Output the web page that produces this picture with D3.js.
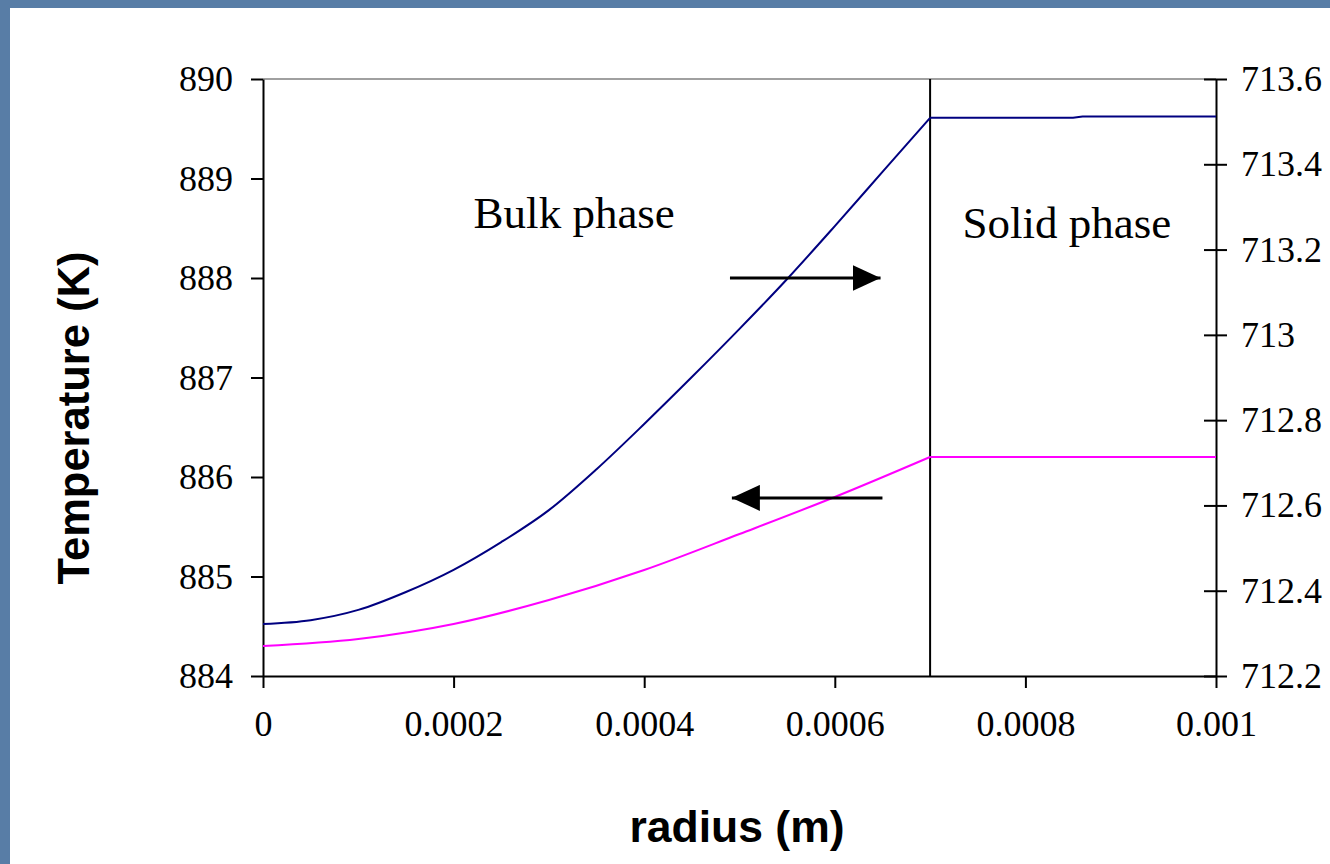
<!DOCTYPE html>
<html>
<head>
<meta charset="utf-8">
<script src="https://cdn.jsdelivr.net/npm/d3@7"></script>
<style>
  html, body { margin: 0; padding: 0; background: #587da6; }
  svg { display: block; }
</style>
</head>
<body>
<svg id="chart" width="1330" height="864"></svg>
<script>
// Radial temperature profiles across the bulk and solid phases
const radiusRight = [0, 0.00005, 0.0001, 0.00015, 0.0002, 0.00025, 0.0003, 0.00035, 0.0004,
                     0.00045, 0.0005, 0.00055, 0.0006, 0.00065, 0.0007, 0.00085, 0.00086, 0.001];
const tempRight = [712.322, 712.331, 712.355, 712.397, 712.449, 712.514, 712.589, 712.685, 712.791,
                   712.901, 713.014, 713.131, 713.255, 713.382, 713.509, 713.509, 713.512, 713.512];

const radiusLeft = [0, 0.0001, 0.0002, 0.0003, 0.0004, 0.0005, 0.0006, 0.0007, 0.001];
const tempLeft = [884.302, 884.372, 884.523, 884.764, 885.065, 885.427, 885.799, 886.201, 886.201];

const xTicks = [0, 0.0002, 0.0004, 0.0006, 0.0008, 0.001];
const xTickLabels = ["0", "0.0002", "0.0004", "0.0006", "0.0008", "0.001"];
const leftTicks = [884, 885, 886, 887, 888, 889, 890];
const rightTicks = [712.2, 712.4, 712.6, 712.8, 713, 713.2, 713.4, 713.6];
const rightTickLabels = ["712.2", "712.4", "712.6", "712.8", "713", "713.2", "713.4", "713.6"];

const interfaceRadius = 0.0007;
const phaseLabels = [
  { text: "Bulk phase", r: 0.000221, t: 888.5, anchor: "start" },
  { text: "Solid phase", r: 0.000734, t: 888.4, anchor: "start" }
];
// arrows pointing to the axis each curve belongs to
const arrows = [
  { from: 0.00049, to: 0.000648, t: 888.0 },
  { from: 0.00065, to: 0.000492, t: 885.79 }
];

const svg = d3.select("#chart");
const W = 1330, H = 864;

// slide background and white panel
svg.append("rect").attr("width", W).attr("height", H).attr("fill", "#587da6");
svg.append("rect").attr("x", 10).attr("y", 8).attr("width", W - 10).attr("height", H - 8).attr("fill", "#ffffff");

const plot = { left: 263, right: 1216, top: 79, bottom: 676 };

const x = d3.scaleLinear().domain([0, 0.001]).range([plot.left, plot.right]);
const yL = d3.scaleLinear().domain([884, 890]).range([plot.bottom, plot.top]);
const yR = d3.scaleLinear().domain([712.2, 713.6]).range([plot.bottom, plot.top]);

const serif = "'Liberation Serif', 'Times New Roman', serif";
const sans = "'Liberation Sans', Arial, sans-serif";

// top border of the plot area
svg.append("line")
  .attr("x1", plot.left).attr("x2", plot.right)
  .attr("y1", plot.top).attr("y2", plot.top)
  .attr("stroke", "#a0a0a0").attr("stroke-width", 2);

// interface between the phases
svg.append("line")
  .attr("x1", x(interfaceRadius)).attr("x2", x(interfaceRadius))
  .attr("y1", plot.top).attr("y2", plot.bottom)
  .attr("stroke", "#000").attr("stroke-width", 2);

// axes
function styleAxis(g) {
  g.selectAll(".domain").attr("stroke", "#000").attr("stroke-width", 2);
  g.selectAll(".tick line").attr("stroke", "#000").attr("stroke-width", 2);
  g.selectAll(".tick text").attr("fill", "#000").attr("font-family", serif).attr("font-size", 36);
}

const xAxis = svg.append("g")
  .attr("transform", `translate(0,${plot.bottom})`)
  .call(d3.axisBottom(x).tickValues(xTicks).tickSizeInner(12).tickSizeOuter(0).tickPadding(22)
    .tickFormat((d, i) => xTickLabels[i]));
styleAxis(xAxis);

const leftAxis = svg.append("g")
  .attr("transform", `translate(${plot.left},0)`)
  .call(d3.axisLeft(yL).tickValues(leftTicks).tickSizeInner(12).tickSizeOuter(0).tickPadding(18)
    .tickFormat(d3.format("d")));
styleAxis(leftAxis);

const rightAxis = svg.append("g")
  .attr("transform", `translate(${plot.right},0)`)
  .call(d3.axisRight(yR).tickValues(rightTicks).tickSizeInner(11).tickSizeOuter(0).tickPadding(14)
    .tickFormat((d, i) => rightTickLabels[i]));
styleAxis(rightAxis);
// right-axis ticks cross the axis line
rightAxis.selectAll(".tick line").attr("x1", -12);

// curves: smooth inside the bulk phase, straight in the solid phase
function drawProfile(rs, ts, yScale, color) {
  const pts = rs.map((r, i) => [r, ts[i]]);
  const bulk = pts.filter(p => p[0] <= interfaceRadius);
  const solid = pts.filter(p => p[0] >= interfaceRadius);
  const smooth = d3.line().x(p => x(p[0])).y(p => yScale(p[1])).curve(d3.curveMonotoneX);
  const straight = d3.line().x(p => x(p[0])).y(p => yScale(p[1]));
  svg.append("path").datum(bulk).attr("d", smooth)
    .attr("fill", "none").attr("stroke", color).attr("stroke-width", 2);
  svg.append("path").datum(solid).attr("d", straight)
    .attr("fill", "none").attr("stroke", color).attr("stroke-width", 2);
}
drawProfile(radiusRight, tempRight, yR, "#000080");
drawProfile(radiusLeft, tempLeft, yL, "#ff00ff");

// arrows
const defs = svg.append("defs");
defs.append("marker")
  .attr("id", "head").attr("viewBox", "0 0 28 26")
  .attr("refX", 28).attr("refY", 13)
  .attr("markerWidth", 28).attr("markerHeight", 26)
  .attr("markerUnits", "userSpaceOnUse").attr("orient", "auto")
  .append("path").attr("d", "M0,0 L28,13 L0,26 Z").attr("fill", "#000");

svg.selectAll(".arrow").data(arrows).enter().append("line")
  .attr("class", "arrow")
  .attr("x1", d => x(d.from)).attr("x2", d => x(d.to))
  .attr("y1", d => yL(d.t)).attr("y2", d => yL(d.t))
  .attr("stroke", "#000").attr("stroke-width", 3)
  .attr("marker-end", "url(#head)");

// phase labels
svg.selectAll(".phase").data(phaseLabels).enter().append("text")
  .attr("class", "phase")
  .attr("x", d => x(d.r)).attr("y", d => yL(d.t))
  .attr("text-anchor", d => d.anchor)
  .attr("font-family", serif).attr("font-size", 45).attr("fill", "#000")
  .text(d => d.text);

// axis titles
svg.append("text")
  .attr("transform", `translate(89,418) rotate(-90)`)
  .attr("text-anchor", "middle")
  .attr("font-family", sans).attr("font-weight", "bold").attr("font-size", 43.5).attr("fill", "#000")
  .text("Temperature (K)");

svg.append("text")
  .attr("x", 737).attr("y", 842)
  .attr("text-anchor", "middle")
  .attr("font-family", sans).attr("font-weight", "bold").attr("font-size", 44.5).attr("fill", "#000")
  .text("radius (m)");
</script>
</body>
</html>
